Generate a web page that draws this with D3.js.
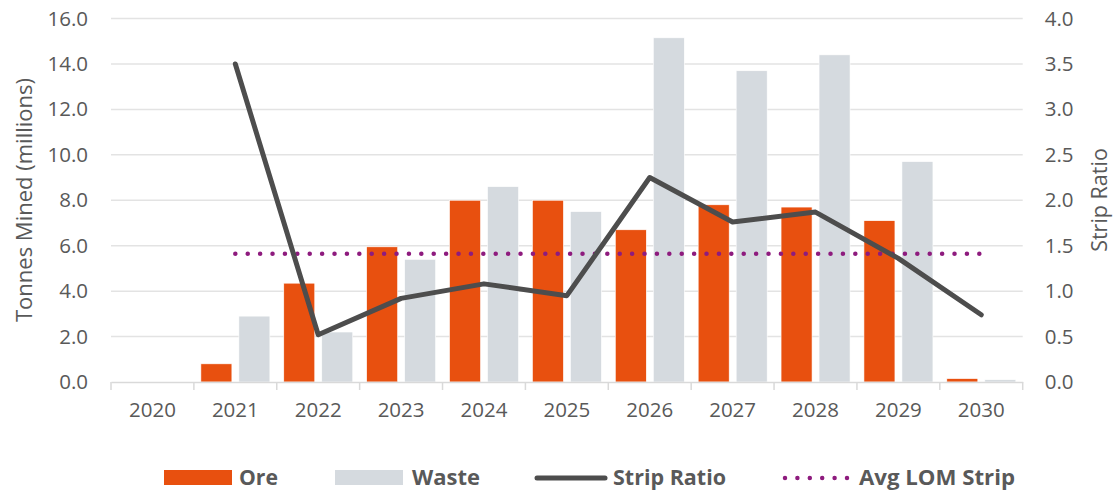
<!DOCTYPE html>
<html><head><meta charset="utf-8">
<script src="https://cdn.jsdelivr.net/npm/d3@7"></script>
<style>body{margin:0;background:#fff}svg{display:block;font-family:"Open Sans",sans-serif}</style>
</head><body><svg id="c" width="1114" height="492"></svg>
<script>
const years = ["2020","2021","2022","2023","2024","2025","2026","2027","2028","2029","2030"];
const ore = [0, 0.8, 4.35, 5.95, 8.0, 8.0, 6.7, 7.8, 7.7, 7.1, 0.15];
const waste = [0, 2.9, 2.2, 5.4, 8.6, 7.5, 15.15, 13.7, 14.4, 9.7, 0.1];
const strip = [null, 3.5, 0.52, 0.92, 1.08, 0.95, 2.25, 1.76, 1.87, 1.36, 0.74];
const avgLOM = 1.41;
const leftTicks = [0,2,4,6,8,10,12,14,16];
const rightTicks = [0,0.5,1,1.5,2,2.5,3,3.5,4];
const legendItems = ["Ore","Waste","Strip Ratio","Avg LOM Strip"];

const svg = d3.select("#c");
const L=111, R=1022.7, T=18.5, B=382;
const x = d3.scaleBand().domain(years).range([L,R]).padding(0);
const x1 = d3.scaleBand().domain(["ore","waste"]).range([7,76]).paddingInner(0.184);
const y = d3.scaleLinear().domain([0,16]).range([B,T]);
const y2 = d3.scaleLinear().domain([0,4]).range([B,T]);
const txt="#595959";

svg.append("g").selectAll("line").data(leftTicks.filter(d=>d>0)).join("line")
  .attr("x1",L).attr("x2",R).attr("y1",d=>y(d)).attr("y2",d=>y(d))
  .attr("stroke","#e3e3e3").attr("stroke-width",1.5);

const ga = svg.append("g").attr("transform",`translate(${L},0)`)
  .call(d3.axisLeft(y).tickValues(leftTicks).tickFormat(d3.format(".1f")).tickSize(0).tickPadding(23));
ga.select(".domain").remove();
ga.selectAll("text").attr("fill",txt).style("font-size","20.5px").style("font-family","Open Sans");

const gr = svg.append("g").attr("transform",`translate(${R},0)`)
  .call(d3.axisRight(y2).tickValues(rightTicks).tickFormat(d3.format(".1f")).tickSize(0).tickPadding(22));
gr.select(".domain").remove();
gr.selectAll("text").attr("fill",txt).style("font-size","20.5px").style("font-family","Open Sans");

const data = years.map((yr,i)=>({yr, ore:ore[i], waste:waste[i]}));
const cols = {ore:"#E8500F", waste:"#D5DADF"};
const grp = svg.append("g").selectAll("g").data(data).join("g").attr("transform",d=>`translate(${x(d.yr)},0)`);
grp.selectAll("rect").data(d=>["ore","waste"].map(k=>({k,v:d[k]}))).join("rect")
  .attr("x",d=>x1(d.k)).attr("width",x1.bandwidth())
  .attr("y",d=>y(d.v)).attr("height",d=>B-y(d.v))
  .attr("fill",d=>cols[d.k]).attr("stroke","#fff").attr("stroke-width",0.6);

const gb = svg.append("g").attr("transform",`translate(0,${B})`)
  .call(d3.axisBottom(x).tickSize(0).tickPadding(20));
gb.select(".domain").attr("stroke","#d9d9d9").attr("stroke-width",1.5);
gb.selectAll("text").attr("fill",txt).style("font-size","20.5px").style("font-family","Open Sans");
svg.append("g").selectAll("line").data(d3.range(years.length+1)).join("line")
  .attr("x1",i=>L+i*x.step()).attr("x2",i=>L+i*x.step()).attr("y1",B).attr("y2",B+8)
  .attr("stroke","#d9d9d9").attr("stroke-width",1.5);

const avgPts = years.slice(1).map(yr=>[x(yr)+x.bandwidth()/2, y2(avgLOM)]);
svg.append("path").attr("d",d3.line()(avgPts)).attr("fill","none")
  .attr("stroke","#8E1B7E").attr("stroke-width",4.5).attr("stroke-linecap","round").attr("stroke-dasharray","0 12.4");

const line = d3.line().defined(d=>d.v!=null).x(d=>x(d.yr)+x.bandwidth()/2).y(d=>y2(d.v));
svg.append("path").datum(years.map((yr,i)=>({yr,v:strip[i]}))).attr("d",line)
  .attr("fill","none").attr("stroke","#4D4D4D").attr("stroke-width",5).attr("stroke-linecap","round").attr("stroke-linejoin","round");

svg.append("text").attr("transform","translate(32,200) rotate(-90)").attr("text-anchor","middle")
  .attr("fill",txt).style("font-size","22px").text("Tonnes Mined (millions)");
svg.append("text").attr("transform","translate(1107,200) rotate(-90)").attr("text-anchor","middle")
  .attr("fill",txt).style("font-size","21.5px").text("Strip Ratio");

const lg = svg.append("g");
const sw = [164,335,535,783];
const tx = [239,412,613,859];
const tw = [39,68,113,156];
lg.append("rect").attr("x",sw[0]).attr("y",470).attr("width",68).attr("height",15).attr("fill",cols.ore);
lg.append("rect").attr("x",sw[1]).attr("y",470).attr("width",68).attr("height",15).attr("fill",cols.waste);
lg.append("line").attr("x1",sw[2]+2).attr("x2",sw[2]+70).attr("y1",478).attr("y2",478)
  .attr("stroke","#4D4D4D").attr("stroke-width",5).attr("stroke-linecap","round");
lg.append("line").attr("x1",sw[3]+2).attr("x2",sw[3]+64).attr("y1",478).attr("y2",478)
  .attr("stroke","#8E1B7E").attr("stroke-width",4.5).attr("stroke-linecap","round").attr("stroke-dasharray","0 12.4");
lg.selectAll("text.l").data(legendItems).join("text").attr("class","l")
  .attr("x",(d,i)=>tx[i]).attr("y",485).attr("fill",txt)
  .style("font-size","21px").style("font-weight","bold")
  .attr("textLength",(d,i)=>tw[i]).attr("lengthAdjust","spacingAndGlyphs").text(d=>d);
</script></body></html>
